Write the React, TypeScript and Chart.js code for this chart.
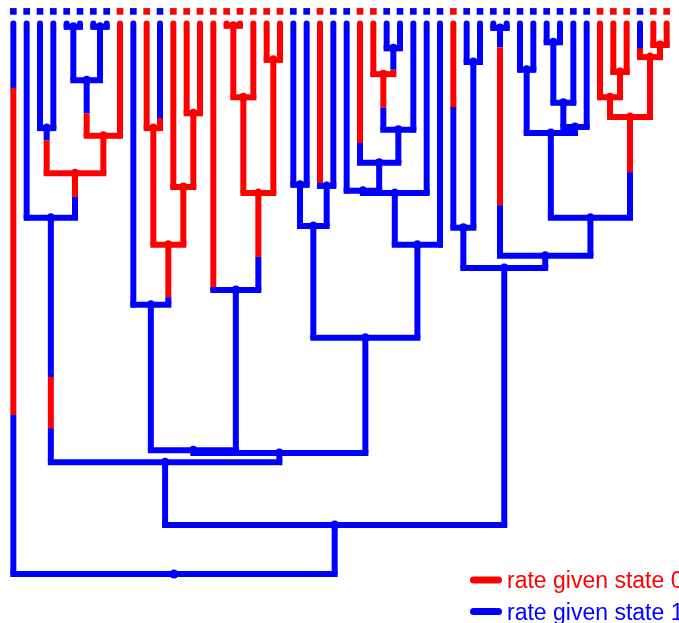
import React, { useEffect, useRef } from "react";
import { Chart, registerables } from "chart.js";

Chart.register(...registerables);

// ---- data ----
const stateColors = ["#ff0000", "#0000ff"]; // state 0 = red, state 1 = blue
const stateLabels = ["rate given state 0", "rate given state 1"];

// observed states at the 50 tips (left to right)
const tipStates = [
  1, 1, 1, 1, 1, 1, 1, 1, 0, 1, 0, 1, 0, 0, 0, 0, 0, 0, 0, 0, 0, 1, 1, 0, 1,
  1, 0, 0, 1, 1, 1, 1, 1, 0, 1, 1, 1, 1, 1, 1, 1, 1, 1, 1, 0, 0, 0, 1, 0, 0,
];
const tipHeight = 100; // time at tips (root = 0)
const markerHeight = 102.2; // where tip-state squares sit

// internal nodes 51..99 : children ids (tips are 1..50)
const nodeChildren = [
  [5, 6], [7, 8], [51, 52], [53, 9], [3, 4], [55, 54], [2, 56], [11, 12], [14, 15], [13, 59],
  [58, 60], [10, 61], [17, 18], [63, 19], [20, 21], [64, 65], [16, 66], [62, 67], [22, 23], [24, 25],
  [69, 70], [29, 30], [28, 72], [73, 31], [27, 74], [26, 75], [76, 32], [77, 33], [71, 78], [68, 79],
  [57, 80], [35, 36], [34, 82], [37, 38], [39, 40], [41, 42], [86, 43], [87, 44], [85, 88], [46, 47],
  [45, 90], [49, 50], [48, 92], [91, 93], [89, 94], [84, 95], [83, 96], [81, 97], [1, 98],
];
// node times (root = 0, tips = 100)
const nodeHeights = [
  99.4, 99.4, 89.7, 79.6, 81.0, 72.8, 64.7, 81.0, 83.7, 70.3,
  59.8, 48.9, 99.6, 86.6, 93.4, 69.2, 51.6, 22.5, 70.7, 70.5,
  63.2, 95.5, 90.8, 80.7, 74.7, 69.6, 69.2, 59.8, 42.9, 22.0,
  20.3, 93.0, 62.9, 99.2, 91.6, 96.6, 85.6, 81.2, 80.1, 91.2,
  86.6, 96.1, 93.9, 83.0, 64.7, 57.8, 55.6, 8.9, 0,
];
const rootState = 1;
// state changes: [edge (child id), time, new state]
const shifts = [
  [1, 28.9, 0], [1, 88.3, 1],
  [57, 26.5, 0], [57, 35.8, 1],
  [56, 68.5, 0], [55, 78.8, 1], [53, 83.7, 1], [12, 82.8, 1],
  [61, 50.3, 0], [66, 57.6, 0], [16, 51.7, 0], [24, 70.6, 0],
  [27, 78.3, 0], [73, 84.7, 0], [72, 91.6, 1], [34, 84.8, 0],
  [84, 67.0, 0], [84, 95.7, 1], [94, 73.0, 0], [48, 95.5, 1],
];

const legendRowY = [580, 611.5];

const legendPlugin = {
  id: "stateLegend",
  afterDraw(chart: any) {
    const ctx = chart.ctx;
    ctx.save();
    stateLabels.forEach((label, i) => {
      const y = legendRowY[i];
      ctx.strokeStyle = stateColors[i];
      ctx.lineWidth = 7;
      ctx.lineCap = "round";
      ctx.beginPath();
      ctx.moveTo(473.5, y);
      ctx.lineTo(498.5, y);
      ctx.stroke();
      ctx.fillStyle = stateColors[i];
      ctx.font = '23px "Liberation Sans", Arial, sans-serif';
      ctx.textBaseline = "alphabetic";
      ctx.fillText(label, 507, y + 8);
    });
    ctx.restore();
  },
};

function buildDatasets() {
  const nTips = tipStates.length;
  const nTotal = nTips + nodeChildren.length;
  const X: number[] = new Array(nTotal + 1).fill(0);
  const H: number[] = new Array(nTotal + 1).fill(0);
  const parent: number[] = new Array(nTotal + 1).fill(0);
  for (let k = 1; k <= nTips; k++) {
    X[k] = k;
    H[k] = tipHeight;
  }
  nodeChildren.forEach((ch, i) => {
    const id = nTips + 1 + i;
    X[id] = (X[ch[0]] + X[ch[1]]) / 2;
    H[id] = nodeHeights[i];
    parent[ch[0]] = id;
    parent[ch[1]] = id;
  });
  const rootId = nTotal;
  const state: number[] = new Array(nTotal + 1).fill(0);
  state[rootId] = rootState;

  const datasets: any[] = [];
  const base = {
    showLine: true,
    pointRadius: 0,
    borderWidth: 6,
    tension: 0,
    clip: false,
  };
  for (let id = rootId - 1; id >= 1; id--) {
    const p = parent[id];
    let s = state[p];
    let t0 = H[p];
    const sh = shifts.filter((d) => d[0] === id).sort((a, b) => a[1] - b[1]);
    const segs: [number, number, number][] = [];
    sh.forEach((d) => {
      segs.push([t0, d[1], s]);
      t0 = d[1];
      s = d[2];
    });
    segs.push([t0, H[id], s]);
    state[id] = s;
    segs.forEach((sg, j) => {
      const isTipTop = id <= nTips && j === segs.length - 1;
      datasets.push({
        ...base,
        data: [
          { x: X[id], y: sg[0] },
          { x: X[id], y: sg[1] },
        ],
        borderColor: stateColors[sg[2]],
        borderCapStyle: isTipTop ? "round" : "butt",
        order: isTipTop ? 4 : 3,
      });
    });
  }
  // horizontal connectors
  nodeChildren.forEach((ch, i) => {
    const id = nTips + 1 + i;
    datasets.push({
      ...base,
      data: [
        { x: X[ch[0]], y: H[id] },
        { x: X[ch[1]], y: H[id] },
      ],
      borderColor: stateColors[state[id]],
      borderCapStyle: "square",
      order: 2,
    });
  });
  // node dots
  const nodeIds = nodeChildren.map((_, i) => nTips + 1 + i);
  datasets.push({
    showLine: false,
    data: nodeIds.map((id) => ({ x: X[id], y: H[id] })),
    pointRadius: 4.5,
    pointBorderWidth: 0,
    pointBackgroundColor: nodeIds.map((id) => stateColors[state[id]]),
    order: 1,
    clip: false,
  });
  // tip markers
  datasets.push({
    showLine: false,
    data: tipStates.map((_, k) => ({ x: k + 1, y: markerHeight })),
    pointStyle: "rect",
    pointRadius: 4.7,
    pointBorderWidth: 0,
    pointBackgroundColor: tipStates.map((s) => stateColors[s]),
    order: 0,
    clip: false,
  });
  return datasets;
}

export default function App() {
  const ref = useRef<HTMLCanvasElement | null>(null);
  useEffect(() => {
    if (!ref.current) return;
    const chart = new Chart(ref.current, {
      type: "scatter",
      data: { datasets: buildDatasets() },
      options: {
        animation: false,
        responsive: true,
        maintainAspectRatio: false,
        events: [],
        layout: { padding: 0, autoPadding: false },
        plugins: {
          legend: { display: false },
          tooltip: { enabled: false },
          title: { display: false },
        },
        scales: {
          x: { type: "linear", min: 0, max: 50.925, display: false },
          y: { type: "linear", min: -8.9, max: 104.27, display: false },
        },
      },
      plugins: [legendPlugin],
    });
    return () => chart.destroy();
  }, []);
  return (
    <div
      style={{
        position: "fixed",
        left: 0,
        top: 0,
        width: 679,
        height: 623,
        background: "#ffffff",
      }}
    >
      <canvas ref={ref} />
    </div>
  );
}
